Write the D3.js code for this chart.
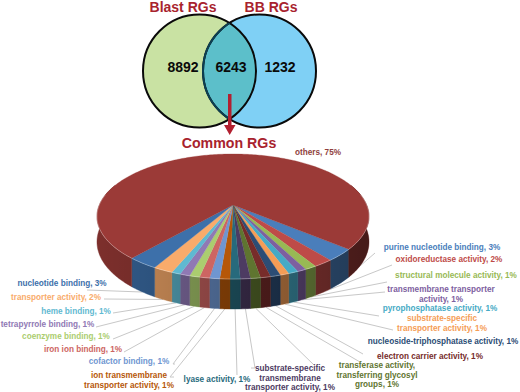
<!DOCTYPE html>
<html>
<head>
<meta charset="utf-8">
<script src="https://cdn.jsdelivr.net/npm/d3@7/dist/d3.min.js"></script>
<style>
  html, body { margin: 0; padding: 0; background: #fff; }
  text { font-family: "Liberation Sans", Arial, sans-serif; font-weight: bold; }
</style>
</head>
<body>
<div id="chart"></div>
<script>
// Venn counts
const vennTitles = ["Blast RGs", "BB RGs"];
const vennCounts = [8892, 6243, 1232];

// Pie slices, clockwise from the purine slice. Percent is estimated from slice widths,
// the printed label is the rounded value.
const sliceNames = [
  "purine nucleotide binding",
  "oxidoreductase activity",
  "structural molecule activity",
  "transmembrane transporter\nactivity",
  "pyrophosphatase activity",
  "substrate-specific\ntransporter activity",
  "nucleoside-triphosphatase activity",
  "electron carrier activity",
  "transferase activity,\ntransferring glycosyl\ngroups",
  "substrate-specific\ntransmembrane\ntransporter activity",
  "lyase activity",
  "ion transmembrane\ntransporter activity",
  "cofactor binding",
  "iron ion binding",
  "coenzyme binding",
  "tetrapyrrole binding",
  "heme binding",
  "transporter activity",
  "nucleotide binding",
  "others"
];
const sliceValues = [3.1, 2, 1.2, 0.9, 1, 0.9, 1, 1, 1, 1, 1, 1, 1, 1, 1, 1, 0.9, 2, 3.1, 74.9];
const sliceColors = [
  "#4a7ebb", "#be4b48", "#98b954", "#7d60a0", "#46aac5", "#f59d56",
  "#2c4d75", "#772c2a", "#5f7530", "#4d3b62", "#276a7c", "#b65708",
  "#6f96d1", "#cd6562", "#abcd6f", "#9079b4", "#5fb9d1", "#f9ab6b",
  "#3d70aa", "#9b3a37"
];

// Where each label sits: centre x, first line centre y
const labelPlaces = [
  [442, 247], [449, 259], [456, 275], [441, 289], [440, 308], [442, 318],
  [443, 341], [430, 356], [377, 365], [290, 368], [217, 379], [129, 375],
  [129, 361], [83, 349], [66, 336], [47.5, 324], [76, 311], [56, 297],
  [62, 283], [318, 152]
];
// Outer ends of the leader lines (elbow first when there is one)
const leaderEnds = [
  [[375, 253]], [[392, 265]], [[387, 282]], [[385, 292]], [[379, 316]], [[393, 330]],
  [[363, 354]], [[360, 362]], [[315, 366]], [[255, 368], [251, 368]], [[237, 375]], [[170, 377], [174, 377]],
  [[173, 364], [175, 364]], [[124, 352]], [[113, 339]], [[96, 327]], [[113, 313]], [[104, 299]],
  [[87, 290]], null
];

const width = 520;
const height = 392;

const svg = d3.select("#chart").append("svg").attr("width", width).attr("height", height);
const defs = svg.append("defs");

// ---- Venn ----
const vennR = 56.5;
const vennCy = 71;
const vennCx = [199.5, 259.5];
const lensId = "lens-clip";
defs.append("clipPath").attr("id", lensId).append("circle")
  .attr("cx", vennCx[0]).attr("cy", vennCy).attr("r", vennR);

svg.append("circle").attr("cx", vennCx[0]).attr("cy", vennCy).attr("r", vennR).attr("fill", "#c9e2a3");
svg.append("circle").attr("cx", vennCx[1]).attr("cy", vennCy).attr("r", vennR).attr("fill", "#7fd0f5");
svg.append("circle").attr("cx", vennCx[1]).attr("cy", vennCy).attr("r", vennR)
  .attr("fill", "#5cbfca").attr("clip-path", `url(#${lensId})`);
svg.append("circle").attr("cx", vennCx[0]).attr("cy", vennCy).attr("r", vennR)
  .attr("fill", "none").attr("stroke", "#0a0a0a").attr("stroke-width", 2);
svg.append("circle").attr("cx", vennCx[1]).attr("cy", vennCy).attr("r", vennR)
  .attr("fill", "none").attr("stroke", "#0a0a0a").attr("stroke-width", 2);
// right circle's arc looks teal-dark inside the lens
svg.append("circle").attr("cx", vennCx[1]).attr("cy", vennCy).attr("r", vennR)
  .attr("fill", "none").attr("stroke", "#0c3f52").attr("stroke-width", 2).attr("clip-path", `url(#${lensId})`);

svg.selectAll("text.count").data(vennCounts).join("text")
  .attr("class", "count")
  .attr("x", (d, i) => [183, 231, 280][i])
  .attr("y", 67)
  .attr("dy", "0.35em")
  .attr("text-anchor", "middle")
  .attr("font-size", 14)
  .attr("fill", "#0a0a0a")
  .text((d) => d);

svg.selectAll("text.venn-title").data(vennTitles).join("text")
  .attr("class", "venn-title")
  .attr("x", (d, i) => [183, 271][i])
  .attr("y", 12)
  .attr("text-anchor", "middle")
  .attr("font-size", 14)
  .attr("fill", "#a8232e")
  .text((d) => d);

svg.append("text")
  .attr("x", 229).attr("y", 148)
  .attr("text-anchor", "middle")
  .attr("font-size", 14.2)
  .attr("fill", "#a8232e")
  .text("Common RGs");

// Arrow from the overlap down to the title
const arrowLine = d3.line();
svg.append("path")
  .attr("fill", "#b22030")
  .attr("d", arrowLine([[228, 94], [231.5, 94], [231.5, 125], [235.5, 125], [229.7, 135], [224, 125], [228, 125]]) + "Z");

// ---- Pie ----
const cx = 233;
const cy = 205;
const k = 0.184; // perspective strength
const sx = d3.scaleLinear().domain([0, 1]).range([0, 133.7]);
const sy = d3.scaleLinear().domain([0, 1]).range([0, 60.4]);
const depth = 24.5;

// angle is d3 style: 0 at the top, clockwise. lower=true gives the underside.
function project(angle, lower) {
  const u = Math.sin(angle);
  const v = -Math.cos(angle);
  const w = 1 - k * v;
  return [cx + sx(u) / w, cy + sy(v) / w + (lower ? depth / w : 0)];
}

const pie = d3.pie().sort(null).value((d) => d.value)
  .startAngle((130.3 * Math.PI) / 180)
  .endAngle((130.3 * Math.PI) / 180 + 2 * Math.PI);

const slices = pie(sliceNames.map((name, i) => ({ name, value: sliceValues[i], color: sliceColors[i], i })));

function sampleAngles(a0, a1) {
  const n = Math.max(2, Math.ceil((a1 - a0) / (Math.PI / 180)));
  return d3.range(n + 1).map((j) => a0 + ((a1 - a0) * j) / n);
}

const pathLine = d3.line();

// leaders go under the pie
const leaderG = svg.append("g");
slices.forEach((s) => {
  const ends = leaderEnds[s.data.i];
  if (!ends) return;
  const mid = (s.startAngle + s.endAngle) / 2;
  const pts = [project(mid, true)].concat(ends);
  leaderG.append("path")
    .attr("d", pathLine(pts))
    .attr("fill", "none")
    .attr("stroke", "#c8c8c8")
    .attr("stroke-width", 1);
});

// side wall, only where the rim faces us
const visible = [[(70 * Math.PI) / 180, (290 * Math.PI) / 180], [(430 * Math.PI) / 180, (650 * Math.PI) / 180]];
const sideG = svg.append("g");
const sideOutline = [];
slices.forEach((s) => {
  visible.forEach(([v0, v1]) => {
    const a0 = Math.max(s.startAngle, v0);
    const a1 = Math.min(s.endAngle, v1);
    if (a1 <= a0) return;
    const angles = sampleAngles(a0, a1);
    const top = angles.map((a) => project(a, false));
    const bottom = angles.map((a) => project(a, true)).reverse();
    const d = pathLine(top.concat(bottom)) + "Z";
    sideOutline.push(d);
    sideG.append("path")
      .attr("d", d)
      .attr("fill", d3.color(s.data.color).darker(0.55))
      .attr("stroke", d3.color(s.data.color).darker(0.55))
      .attr("stroke-width", 0.4);
  });
});

// left-to-right shading of the wall
const sideGrad = defs.append("linearGradient").attr("id", "side-shade")
  .attr("gradientUnits", "userSpaceOnUse")
  .attr("x1", 97).attr("x2", 369).attr("y1", 0).attr("y2", 0);
sideGrad.append("stop").attr("offset", "0%").attr("stop-color", "#000").attr("stop-opacity", 0.02);
sideGrad.append("stop").attr("offset", "50%").attr("stop-color", "#000").attr("stop-opacity", 0.22);
sideGrad.append("stop").attr("offset", "100%").attr("stop-color", "#000").attr("stop-opacity", 0.45);
svg.append("path").attr("d", sideOutline.join(" ")).attr("fill", "url(#side-shade)");

// top face
slices.forEach((s) => {
  const pts = [[cx, cy]].concat(sampleAngles(s.startAngle, s.endAngle).map((a) => project(a, false)));
  svg.append("path")
    .attr("d", pathLine(pts) + "Z")
    .attr("fill", s.data.color)
    .attr("stroke", s.data.color)
    .attr("stroke-width", 0.3);
});

// soft highlight along the front edge
svg.append("path")
  .attr("d", pathLine(sampleAngles((80 * Math.PI) / 180, (280 * Math.PI) / 180).map((a) => project(a, false))))
  .attr("fill", "none")
  .attr("stroke", "#fff")
  .attr("stroke-opacity", 0.3)
  .attr("stroke-width", 1);

// ---- Labels ----
slices.forEach((s) => {
  const [lx, ly] = labelPlaces[s.data.i];
  const name = s.data.name.split("\n");
  const pct = Math.round(s.data.value);
  name[name.length - 1] += `, ${pct}%`;
  const t = svg.append("text")
    .attr("text-anchor", "middle")
    .attr("font-size", 8.2)
    .attr("fill", s.data.name === "others" ? "#8f3f3d" : s.data.color);
  name.forEach((line, j) => {
    t.append("tspan")
      .attr("x", lx)
      .attr("y", ly + j * 9.7)
      .attr("dy", "0.35em")
      .text(line);
  });
});
</script>
</body>
</html>
